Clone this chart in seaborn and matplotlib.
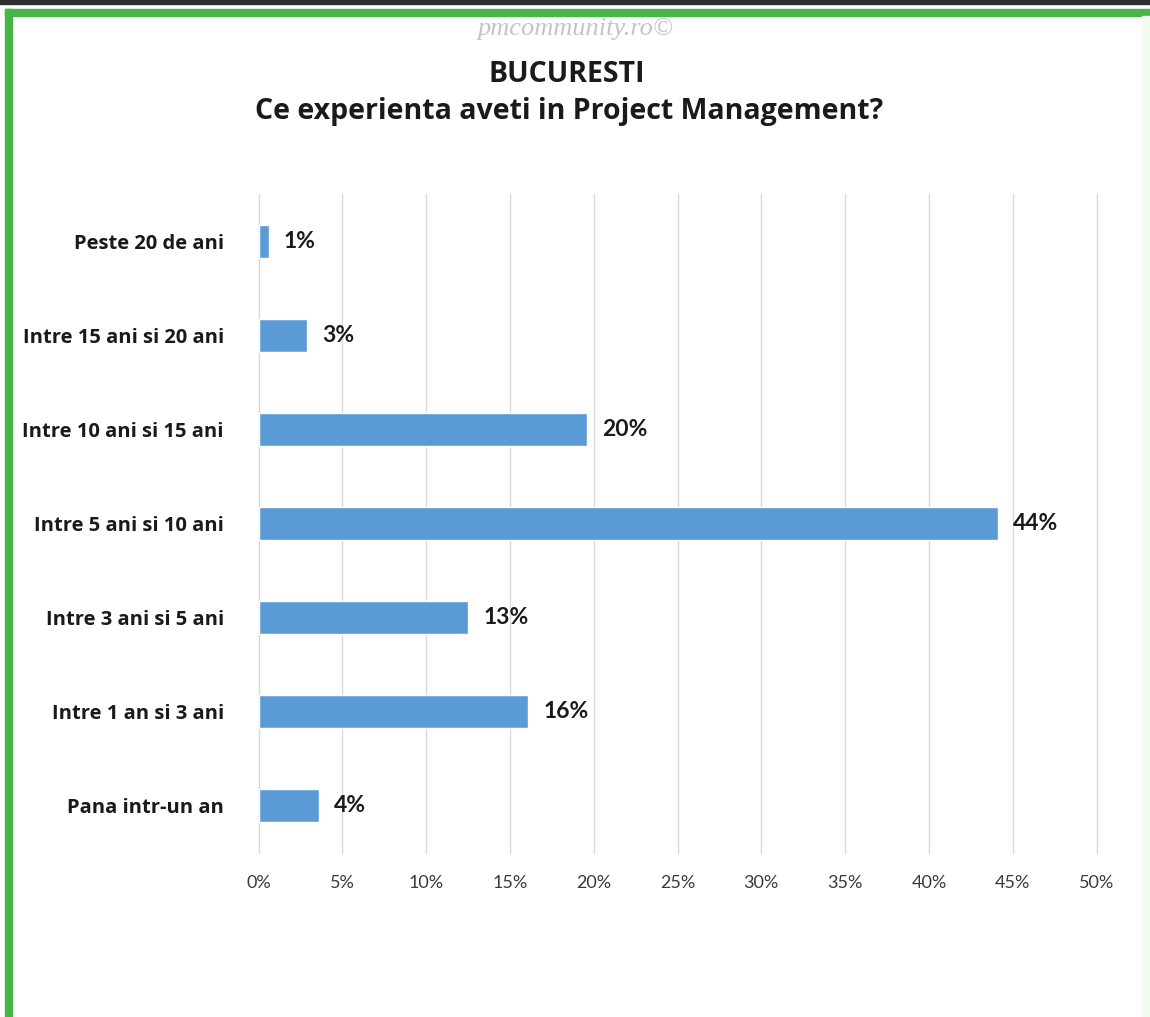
import numpy as np
import pandas as pd
from matplotlib import pyplot as plt
from matplotlib.patches import Rectangle
import seaborn as sns

# Data (top to bottom)
categories = ['Peste 20 de ani', 'Intre 15 ani si 20 ani', 'Intre 10 ani si 15 ani',
              'Intre 5 ani si 10 ani', 'Intre 3 ani si 5 ani', 'Intre 1 an si 3 ani',
              'Pana intr-un an']
values = [0.6, 2.9, 19.6, 44.1, 12.5, 16.1, 3.6]
pct_labels = ['1%', '3%', '20%', '44%', '13%', '16%', '4%']
xticks = [0, 5, 10, 15, 20, 25, 30, 35, 40, 45, 50]

sns.set_style('white')
plt.rcParams['font.family'] = ['Lato', 'DejaVu Sans']

data = pd.DataFrame({'cat': categories, 'val': values})

fig = plt.figure(figsize=(11.5, 10.17), dpi=100)

# frame around the picture
W, H = 1150, 1017
fig.patches.append(Rectangle((0, 1 - 4 / H), 1, 4 / H, transform=fig.transFigure,
                             color='#2E2E2E', zorder=0))
fig.patches.append(Rectangle((5 / W, 1 - 16 / H), 1, 7 / H, transform=fig.transFigure,
                             color='#48B548', zorder=0))
fig.patches.append(Rectangle((5 / W, 0), 7 / W, 1 - 9 / H, transform=fig.transFigure,
                             color='#48B548', zorder=0))
fig.patches.append(Rectangle((1142 / W, 0), 8 / W, 1 - 16 / H, transform=fig.transFigure,
                             color='#F2FCF2', zorder=0))

ax = fig.add_axes([258.5 / W, 1 - 853 / H, 838 / W, 659 / H])
sns.barplot(data=data, x='val', y='cat', orient='h', color='#5B9BD5', saturation=1,
            width=0.35, ax=ax)

ax.set_xlim(0, 50)
ax.set_xticks(xticks)
ax.set_xticklabels([f'{t}%' for t in xticks], fontsize=13, color='#3a3a3a')
ax.tick_params(axis='x', length=0, pad=16)
ax.tick_params(axis='y', length=0, pad=25)
for lbl in ax.get_yticklabels():
    lbl.set_fontsize(14.5)
    lbl.set_fontweight('bold')
    lbl.set_family('Open Sans')
    lbl.set_color('#1a1a1a')
ax.set_xlabel('')
ax.set_ylabel('')
ax.grid(axis='x', color='#D9D9D9', linewidth=1)
for gl in ax.get_xgridlines():
    gl.set_clip_on(False)
ax.set_axisbelow(True)
sns.despine(ax=ax, left=True, bottom=True)

ax.bar_label(ax.containers[0], labels=pct_labels, padding=11, fontsize=16.5,
             fontweight='bold', color='#1a1a1a')

fig.text(0.5, 1 - 29 / H, 'pmcommunity.ro©', ha='center', va='center',
         fontsize=19, style='italic', color='#C4C4C4', family='Liberation Serif')
fig.text(0.493, 1 - 74 / H, 'BUCURESTI', ha='center', va='center',
         fontsize=20.5, fontweight='bold', color='#1a1a1a', family='Open Sans')
fig.text(0.495, 1 - 111 / H, 'Ce experienta aveti in Project Management?', ha='center',
         va='center', fontsize=20.5, fontweight='bold', color='#1a1a1a', family='Open Sans')

fig.savefig('out.png', dpi=100)
